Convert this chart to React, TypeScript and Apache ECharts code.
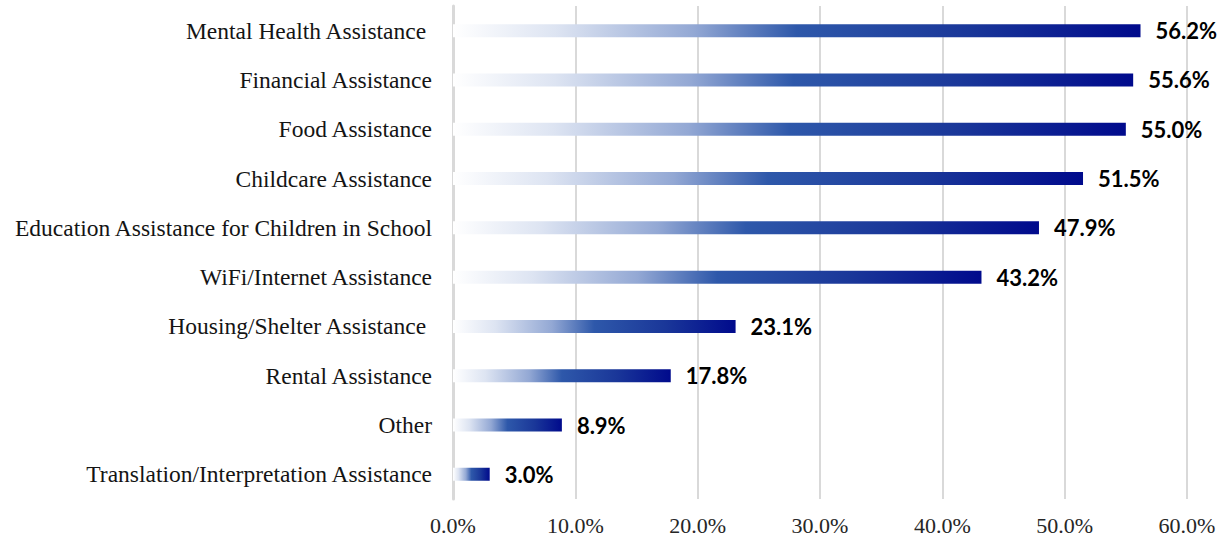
import React, { useEffect, useRef } from "react";
import * as echarts from "echarts";

const categories = [
  "Mental Health Assistance ",
  "Financial Assistance",
  "Food Assistance",
  "Childcare Assistance",
  "Education Assistance for Children in School",
  "WiFi/Internet Assistance",
  "Housing/Shelter Assistance ",
  "Rental Assistance",
  "Other",
  "Translation/Interpretation Assistance",
];
const values = [56.2, 55.6, 55.0, 51.5, 47.9, 43.2, 23.1, 17.8, 8.9, 3.0];
const xTicks = [0, 10, 20, 30, 40, 50, 60];

export default function App() {
  const ref = useRef<HTMLDivElement>(null);
  useEffect(() => {
    if (!ref.current) return;
    const chart = echarts.init(ref.current, null, { renderer: "svg" });
    const grad = new echarts.graphic.LinearGradient(0, 0, 1, 0, [
      { offset: 0, color: "#ffffff" },
      { offset: 0.15, color: "#dde4f2" },
      { offset: 0.35, color: "#93a8d4" },
      { offset: 0.5, color: "#2e58aa" },
      { offset: 0.75, color: "#1a3799" },
      { offset: 1, color: "#000a8c" },
    ]);
    chart.setOption({
      animation: false,
      grid: { left: 453, right: 44, top: 6, bottom: 41, containLabel: false },
      xAxis: {
        type: "value",
        min: 0,
        max: 60,
        interval: 10,
        axisLine: { show: false },
        axisTick: { show: false },
        splitLine: { show: true, lineStyle: { color: "#d9d9d9", width: 2 } },
        axisLabel: {
          formatter: (v: number) => (xTicks.includes(v) ? v.toFixed(1) + "%" : ""),
          fontFamily: "Liberation Serif",
          fontSize: 22,
          color: "#262626",
          margin: 15,
        },
      },
      yAxis: {
        type: "category",
        data: categories,
        inverse: true,
        axisLine: { show: true, lineStyle: { color: "#d9d9d9", width: 3 } },
        axisTick: { show: false },
        axisLabel: {
          fontFamily: "Liberation Serif",
          fontSize: 23.5,
          color: "#141414",
          margin: 21,
        },
      },
      series: [
        {
          type: "bar",
          data: values,
          barWidth: 13,
          itemStyle: { color: grad },
          label: {
            show: true,
            position: "right",
            distance: 15,
            formatter: (p: any) => p.value.toFixed(1) + "%",
            fontFamily: "Lato",
            fontWeight: "bold",
            fontSize: 22,
            color: "#000000",
          },
        },
      ],
    });
    return () => chart.dispose();
  }, []);
  return (
    <div
      ref={ref}
      style={{ position: "absolute", left: 0, top: 0, width: 1231, height: 540 }}
    />
  );
}
